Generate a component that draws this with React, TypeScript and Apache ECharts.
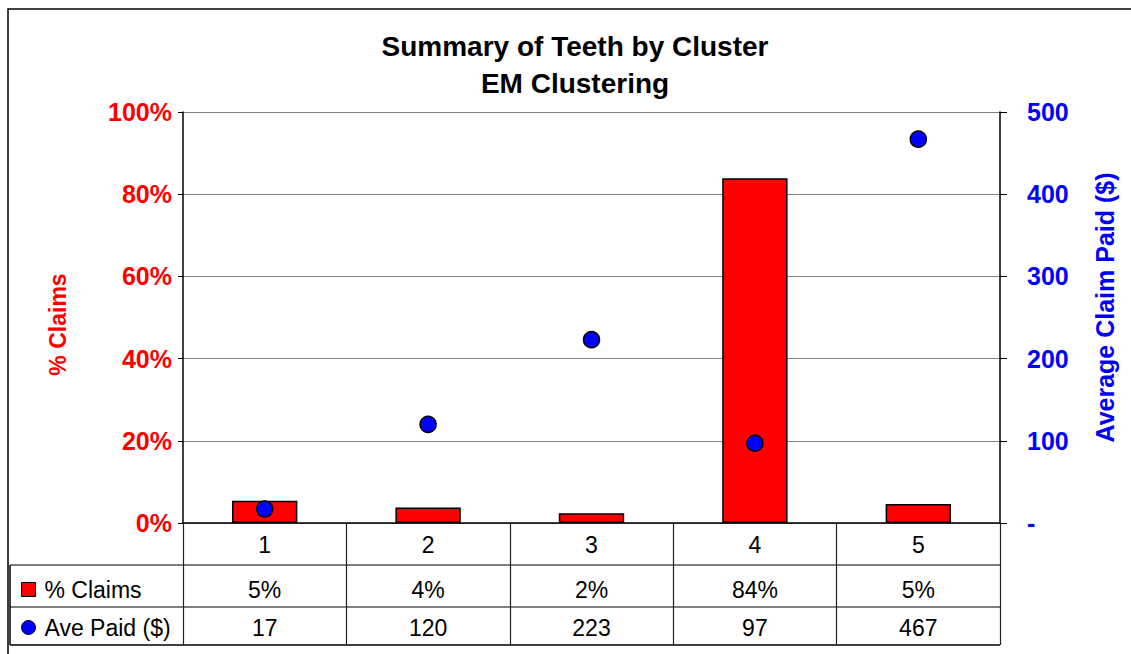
import React, { useEffect, useRef } from "react";
import * as echarts from "echarts";

const categories = ["1", "2", "3", "4", "5"];
const claimsPct = [5.4, 3.8, 2.4, 83.9, 4.6];
const avePaid = [17, 120, 223, 97, 467];
const seriesNames = ["% Claims", "Ave Paid ($)"];
const titleLines = ["Summary of Teeth by Cluster", "EM Clustering"];

const FONT = "'Liberation Sans', Arial, sans-serif";

export default function App() {
  const ref = useRef<HTMLDivElement>(null);
  useEffect(() => {
    if (!ref.current) return;
    const chart = echarts.init(ref.current, null, { renderer: "svg" });
    const claimsLabels = claimsPct.map((v) => Math.round(v) + "%");
    const paidLabels = avePaid.map((v) => String(v));
    const tableText = { fontSize: 23, color: "#000", fontFamily: FONT };
    chart.setOption({
      animation: false,
      backgroundColor: "#fff",
      title: {
        text: titleLines.join("\n"),
        left: 575,
        top: 28,
        padding: 0,
        textAlign: "center",
        textStyle: { fontSize: 28, fontWeight: "bold", color: "#000", fontFamily: FONT, lineHeight: 37 },
      },
      legend: [
        {
          data: [{ name: seriesNames[0], icon: "rect" }],
          left: 16,
          top: 573,
          orient: "vertical",
          itemWidth: 14,
          itemHeight: 14,
          selectedMode: false,
          itemStyle: { borderColor: "#000", borderWidth: 1 },
          textStyle: { ...tableText, padding: [0, 0, 0, 4] },
        },
        {
          data: [{ name: seriesNames[1], icon: "circle" }],
          left: 16,
          top: 611,
          orient: "vertical",
          itemWidth: 14,
          itemHeight: 14,
          selectedMode: false,
          itemStyle: { borderColor: "#000", borderWidth: 1 },
          textStyle: { ...tableText, padding: [0, 0, 0, 4] },
        },
      ],
      grid: { left: 183, top: 112, width: 817, height: 411, containLabel: false },
      xAxis: [
        {
          type: "category",
          data: categories,
          position: "bottom",
          boundaryGap: true,
          axisLine: { show: true, lineStyle: { color: "#000", width: 1.5 } },
          axisTick: { show: true, length: 122, interval: 0, lineStyle: { color: "#222", width: 1.2 } },
          axisLabel: { ...tableText, margin: 10, interval: 0 },
        },
        {
          type: "category",
          data: claimsLabels,
          position: "bottom",
          offset: 42,
          axisLine: { show: false },
          axisTick: { show: false },
          axisLabel: { ...tableText, margin: 13, interval: 0 },
        },
        {
          type: "category",
          data: paidLabels,
          position: "bottom",
          offset: 84,
          axisLine: { show: false },
          axisTick: { show: false },
          axisLabel: { ...tableText, margin: 9, interval: 0 },
        },
      ],
      yAxis: [
        {
          type: "value",
          min: 0,
          max: 100,
          interval: 20,
          position: "left",
          name: "% Claims",
          nameLocation: "middle",
          nameRotate: 90,
          nameGap: 114,
          nameTextStyle: { fontSize: 23, fontWeight: "bold", color: "#ff0000", fontFamily: FONT, padding: [0, 14, 0, 0] },
          axisLine: { show: true, lineStyle: { color: "#000", width: 1.5 } },
          axisTick: { show: true, length: 5, lineStyle: { color: "#000" } },
          axisLabel: { formatter: "{value}%", fontSize: 25, fontWeight: "bold", color: "#ff0000", fontFamily: FONT, margin: 11 },
          splitLine: { show: true, lineStyle: { color: "#808080", width: 1.2 } },
        },
        {
          type: "value",
          min: 0,
          max: 500,
          interval: 100,
          position: "right",
          name: "Average Claim Paid ($)",
          nameLocation: "middle",
          nameRotate: 90,
          nameGap: 92,
          nameTextStyle: { fontSize: 25, fontWeight: "bold", color: "#0000ff", fontFamily: FONT, padding: [0, 0, 0, 20] },
          axisLine: { show: true, lineStyle: { color: "#000", width: 1.5 } },
          axisTick: { show: true, length: 7, lineStyle: { color: "#000" } },
          axisLabel: {
            formatter: (v: number) => (v === 0 ? "-" : String(v)),
            fontSize: 25,
            fontWeight: "bold",
            color: "#0000ff",
            fontFamily: FONT,
            margin: 27,
          },
          splitLine: { show: false },
        },
      ],
      series: [
        {
          name: seriesNames[0],
          type: "bar",
          data: claimsPct,
          xAxisIndex: 0,
          yAxisIndex: 0,
          barWidth: "40%",
          itemStyle: { color: "#ff0000", borderColor: "#000", borderWidth: 1.5 },
        },
        {
          name: seriesNames[1],
          type: "scatter",
          data: avePaid,
          xAxisIndex: 0,
          yAxisIndex: 1,
          symbol: "circle",
          symbolSize: 16,
          itemStyle: { color: "#0000ff", borderColor: "#000", borderWidth: 1.5, opacity: 1 },
        },
      ],
      graphic: [
        { type: "rect", shape: { x: 8, y: 9, width: 1300, height: 800 }, style: { fill: "none", stroke: "#000", lineWidth: 1.5 }, silent: true },
        { type: "line", shape: { x1: 10, y1: 565, x2: 1000, y2: 565 }, style: { stroke: "#555", lineWidth: 1.5 }, silent: true },
        { type: "line", shape: { x1: 10, y1: 607, x2: 1000, y2: 607 }, style: { stroke: "#555", lineWidth: 1.5 }, silent: true },
        { type: "line", shape: { x1: 10, y1: 645, x2: 1000, y2: 645 }, style: { stroke: "#000", lineWidth: 1.5 }, silent: true },
        { type: "line", shape: { x1: 10, y1: 565, x2: 10, y2: 645 }, style: { stroke: "#000", lineWidth: 1.5 }, silent: true },
      ],
    });
    return () => chart.dispose();
  }, []);
  return (
    <div
      ref={ref}
      style={{ position: "fixed", left: 0, top: 0, width: 1131, height: 654, background: "#fff" }}
    />
  );
}
